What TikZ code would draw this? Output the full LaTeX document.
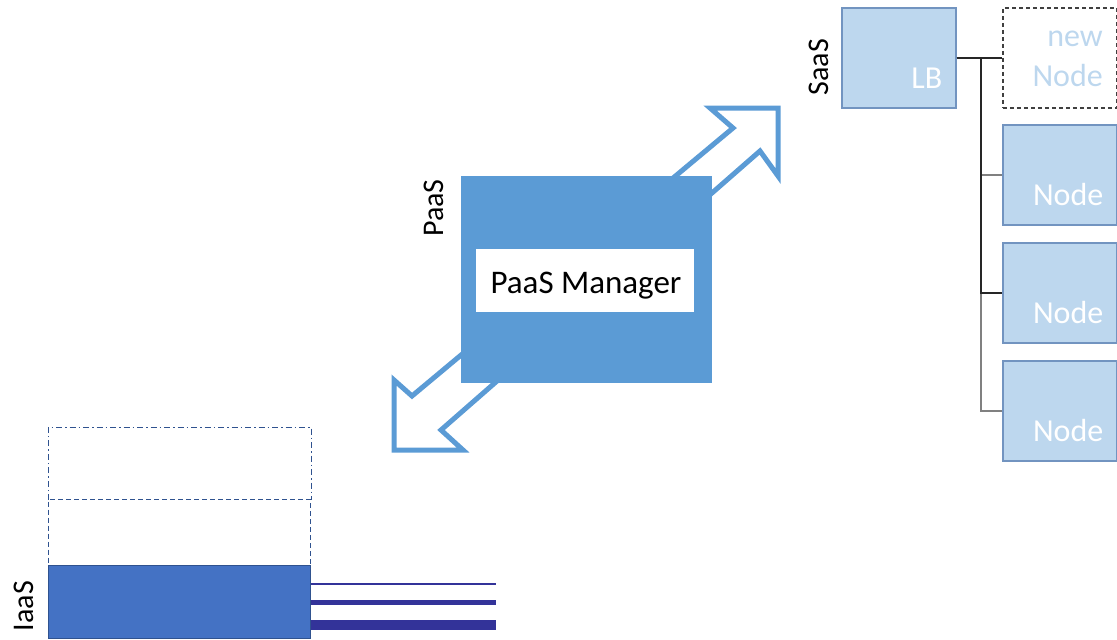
\documentclass[tikz,border=0pt]{standalone}
\usepackage{fontspec}
\setmainfont{Carlito}
\definecolor{paas}{HTML}{5B9BD5}
\definecolor{saasfill}{HTML}{BDD7EE}
\definecolor{saasline}{HTML}{7294C0}
\definecolor{iaasfill}{HTML}{4472C4}
\definecolor{iaasline}{HTML}{2F528F}
\definecolor{indigo}{HTML}{333399}
\tikzset{
  saasbox/.style={draw=saasline, fill=saasfill, line width=1.5pt, minimum width=114pt, minimum height=100pt, inner sep=0pt},
  newbox/.style={draw=black!75, dash pattern=on 4pt off 3pt, line width=1.5pt, minimum width=114pt, minimum height=100pt, inner sep=0pt},
  boxtext/.style={text=white, font=\fontsize{32}{38}\selectfont, inner sep=0pt, anchor=base east},
  sidelabel/.style={rotate=90, anchor=base, inner sep=0pt, font=\fontsize{30}{36}\selectfont},
  iaasstack/.style={minimum width=262pt, inner sep=0pt, anchor=north west, line width=1pt},
  link/.style={line width=2pt},
}
\begin{document}
\begin{tikzpicture}[x=1pt,y=-1pt]
\useasboundingbox (0,0) rectangle (1117,640);
% ---------- IaaS ----------
\node[iaasstack, minimum height=72pt] (iaas3) at (48,427) {};
\draw[iaasline, line width=1pt, dash pattern=on 6pt off 3pt on 1.5pt off 3pt]
  (iaas3.south west) -- (iaas3.north west) -- (iaas3.north east) -- (iaas3.south east);
\node[iaasstack, draw=iaasline, minimum height=66pt, dash pattern=on 5pt off 3pt] (iaas2) at (48,499) {};
\node[iaasstack, draw=iaasline, minimum height=73pt, fill=iaasfill] (iaas) at (48,565) {};
\node[sidelabel] (iaaslbl) at (33,606) {IaaS};
\coordinate (e1) at (496,584);
\coordinate (e2) at (496,602);
\coordinate (e3) at (496,625);
\draw[indigo, line width=1.5pt] (iaas.east |- e1) -- (e1);
\draw[indigo, line width=5pt] (iaas.east |- e2) -- (e2);
\draw[indigo, line width=10pt] (iaas.east |- e3) -- (e3);
% ---------- double arrow ----------
\draw[paas, fill=white, line width=5pt, line join=miter]
  (778,108) -- (710,108) -- (733,128) -- (412,396) -- (394,380) -- (394,450)
  -- (463,450) -- (441,430) -- (760,151) -- (778,176) -- cycle;
% ---------- PaaS ----------
\node[fill=paas, minimum width=251pt, minimum height=207pt, inner sep=0pt, anchor=north west] (paas) at (461,176) {};
\node[fill=white, minimum width=218pt, minimum height=63pt, inner sep=0pt, anchor=north west] (mgrbox) at (476,249) {};
\node[anchor=base, inner sep=0pt, font=\fontsize{33}{38}\selectfont] (mgr) at (586,293) {PaaS Manager};
\node[sidelabel] (paaslbl) at (443,208) {PaaS};
% ---------- SaaS ----------
\node[saasbox, anchor=north west] (lb) at (841,7) {};
\node[boxtext] (lbtxt) at ([xshift=-14pt,yshift=20pt]lb.south east) {LB};
\node[sidelabel] (saaslbl) at (828,67) {SaaS};
\node[newbox, anchor=north west] (nn) at (1002,7) {};
\node[saasbox, anchor=north west] (n1) at (1002,124) {};
\node[saasbox, anchor=north west] (n2) at (1002,242) {};
\node[saasbox, anchor=north west] (n3) at (1002,360) {};
\node[text=saasfill, font=\fontsize{32}{40}\selectfont, inner sep=0pt, anchor=south east, align=right] (nntxt) at (1103,87) {new\\Node};
\node[boxtext] (n1txt) at ([xshift=-14pt,yshift=20pt]n1.south east) {Node};
\node[boxtext] (n2txt) at ([xshift=-14pt,yshift=20pt]n2.south east) {Node};
\node[boxtext] (n3txt) at ([xshift=-14pt,yshift=20pt]n3.south east) {Node};
\coordinate (j) at ([xshift=24pt]lb.east);
\draw[link, black!50] (lb.east) -- (j) |- (n1.west);
\draw[link, black!50] (lb.east) -- (j) |- (n3.west);
\draw[link, black!85] (lb.east) -- (j) |- (nn.west);
\draw[link, black!85] (lb.east) -- (j) |- (n2.west);
\end{tikzpicture}
\end{document}
